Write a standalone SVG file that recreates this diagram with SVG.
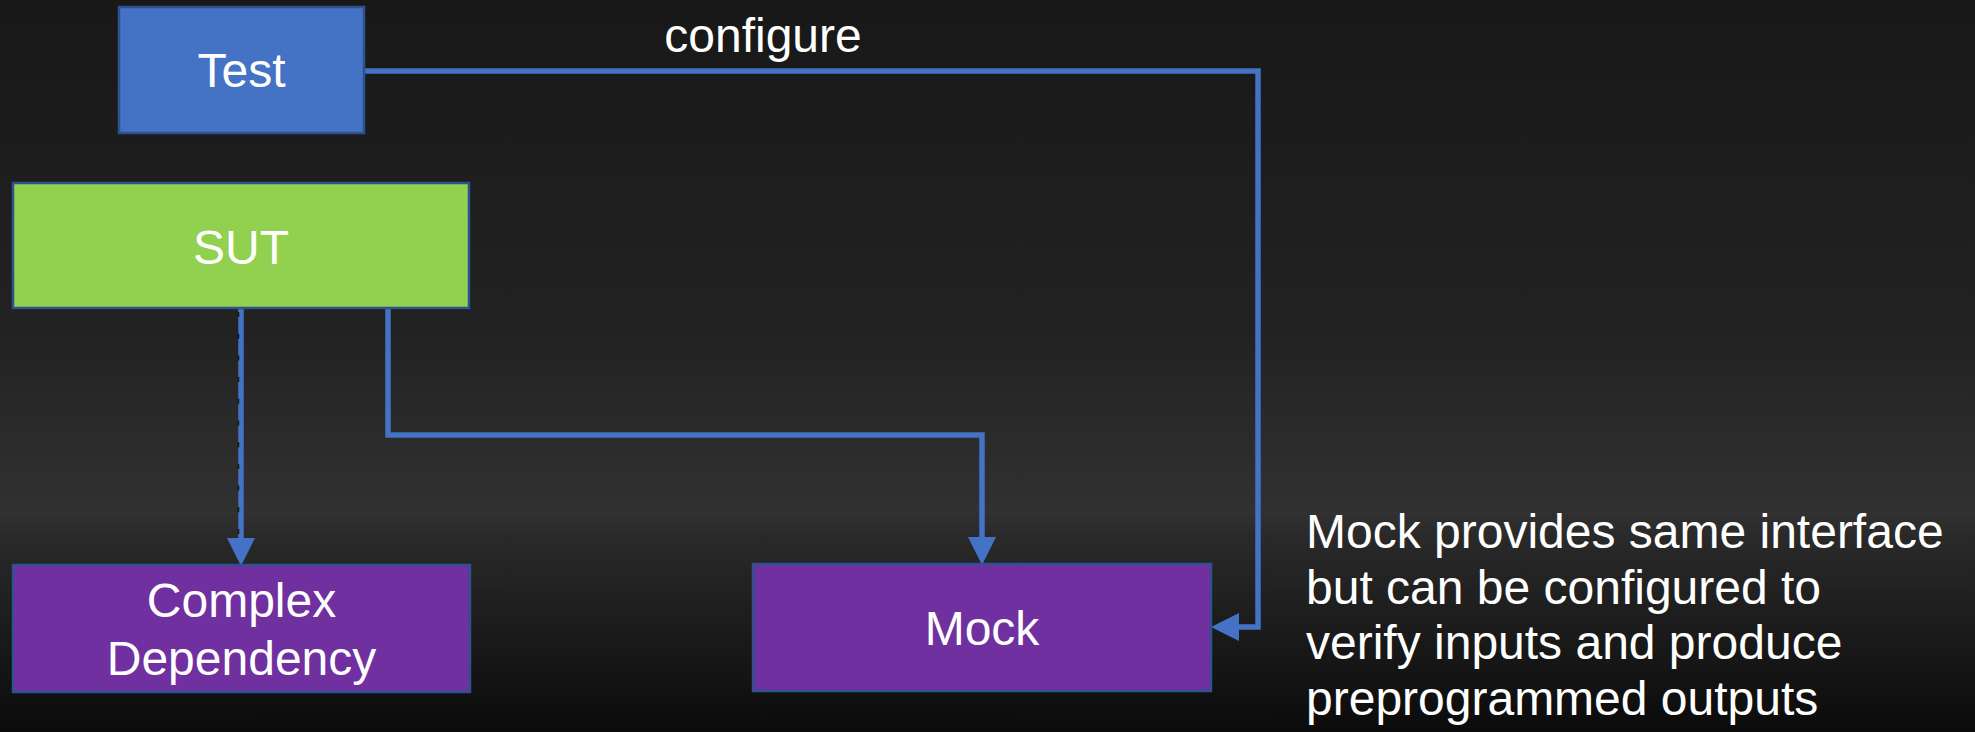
<svg xmlns="http://www.w3.org/2000/svg" width="1975" height="732" viewBox="0 0 1975 732">
<style>
.box{stroke:#2F528F;stroke-width:2.5}
.lbl{font-family:"Liberation Sans",Arial,sans-serif;font-size:48px;fill:#FFFFFF}
.mid{text-anchor:middle}
.conn{fill:none;stroke:#4472C4;stroke-width:5.5}
</style>
<defs>
<linearGradient id="bg" x1="0" y1="0" x2="0" y2="1">
<stop offset="0" stop-color="#181818"/>
<stop offset="0.45" stop-color="#222222"/>
<stop offset="0.70" stop-color="#313131"/>
<stop offset="0.73" stop-color="#2a2a2a"/>
<stop offset="1" stop-color="#0b0b0b"/>
</linearGradient>
<marker id="arrow" markerUnits="userSpaceOnUse" markerWidth="30" markerHeight="30" viewBox="0 -15 30 30" refX="0" refY="0" orient="auto">
<path d="M0,-14 L28,0 L0,14 z" fill="#4472C4"/>
</marker>
</defs>
<rect x="0" y="0" width="1975" height="732" fill="url(#bg)"/>

<g id="connectors">
<path class="conn" d="M364,71 H1258 V627 H1239" marker-end="url(#arrow)"/>
<path class="conn" d="M388,308 V435 H982 V537" marker-end="url(#arrow)"/>
<path class="conn" d="M241,308 V538" marker-end="url(#arrow)"/>
<path d="M238.3,312 V535" fill="none" stroke="#1c1c1c" stroke-width="2" stroke-dasharray="5 16.7"/>
<text class="lbl mid" x="763" y="52">configure</text>
</g>

<g id="node-test">
<rect class="box" x="119" y="7" width="245" height="126" fill="#4472C4"/>
<text class="lbl mid" x="241.5" y="87">Test</text>
</g>

<g id="node-sut">
<rect class="box" x="13" y="183" width="456" height="125" fill="#92D050"/>
<text class="lbl mid" x="241" y="264">SUT</text>
</g>

<g id="node-complex">
<rect class="box" x="13" y="565" width="457" height="127" fill="#7030A0"/>
<text class="lbl mid" x="241.5" y="617">Complex</text>
<text class="lbl mid" x="241.5" y="675">Dependency</text>
</g>

<g id="node-mock">
<rect class="box" x="753" y="564" width="458" height="127" fill="#7030A0"/>
<text class="lbl mid" x="982" y="645">Mock</text>
</g>

<g id="note">
<text class="lbl" x="1306" y="548">Mock provides same interface</text>
<text class="lbl" x="1306" y="603.5">but can be configured to</text>
<text class="lbl" x="1306" y="659">verify inputs and produce</text>
<text class="lbl" x="1306" y="714.5">preprogrammed outputs</text>
</g>
</svg>
